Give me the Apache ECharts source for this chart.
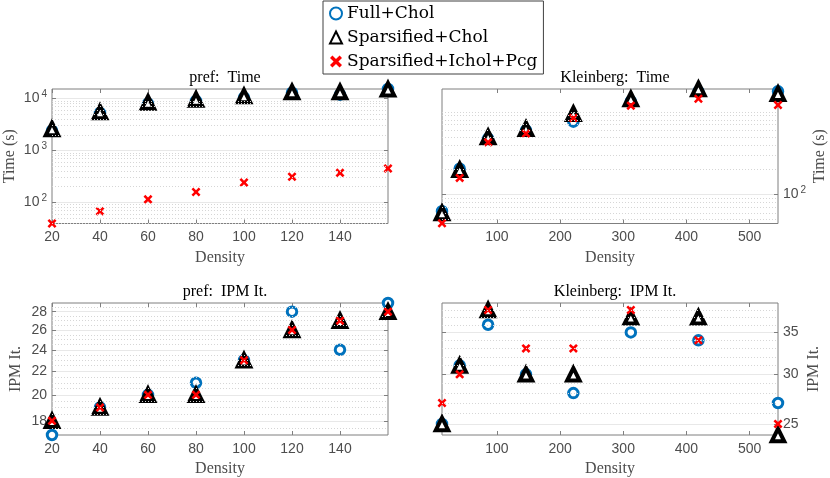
<!DOCTYPE html>
<html>
<head>
<meta charset="utf-8">
<script src="https://cdn.jsdelivr.net/npm/echarts@6/dist/echarts.min.js"></script>
<style>html,body{margin:0;padding:0;background:#fff}#main{width:830px;height:478px}</style>
</head>
<body>
<div id="main"></div>
<script>
// densities
var prefDensity = [20, 40, 60, 80, 100, 120, 140, 160];
var kleinDensity = [13, 41, 86, 146, 221, 312, 419, 545];

// time (s)
var prefTimeFull = [2400, 5300, 8000, 9000, 10400, 13000, 11900, 15300];
var prefTimeSpChol = [2600, 5500, 8400, 9600, 11200, 13400, 13400, 15100];
var prefTimePcg = [39, 67, 114, 158, 241, 310, 370, 448];
var kleinTimeFull = [63, 205, 475, 598, 762, 1340, 1753, 1770];
var kleinTimeSpChol = [60, 200, 498, 627, 950, 1432, 1890, 1660];
var kleinTimePcg = [45, 159, 428, 546, 844, 1189, 1442, 1210];

// IPM iterations
var prefItFull = [17, 19, 20, 21, 23, 28, 24, 29];
var prefItSpChol = [18, 19, 20, 20, 23, 26, 27, 28];
var prefItPcg = [18, 19, 20, 20, 23, 26, 27, 28];
var kleinItFull = [25, 31, 36, 30, 28, 35, 34, 27];
var kleinItSpChol = [25, 31, 38, 30, 30, 37, 37, 24];
var kleinItPcg = [27, 30, 38, 33, 33, 38, 34, 25];

// tick labels
var prefXTicks = [20, 40, 60, 80, 100, 120, 140];
var kleinXTicks = [100, 200, 300, 400, 500];
var prefTimeTicks = [100, 1000, 10000];
var kleinTimeTicks = [100];
var prefItTicks = [18, 20, 22, 24, 26, 28];
var kleinItTicks = [25, 30, 35];

// minor (dotted) grid values
var prefTimeMinor = [40, 50, 60, 70, 80, 90, 200, 300, 400, 500, 600, 700, 800, 900, 2000, 3000, 4000, 5000, 6000, 7000, 8000, 9000];
var kleinTimeMinor = [50, 60, 70, 80, 90, 200, 300, 400, 500, 600, 700, 800, 900, 1000];
var prefItMinor = [17.5, 18.5, 19, 19.5, 20.5, 21, 21.5, 22.5, 23, 23.5, 24.5, 25, 25.5, 26.5, 27, 27.5, 28.5];
var kleinItMinor = [26, 27, 28, 29, 31, 32, 33, 34, 36, 37, 38];

var legendNames = ['Full+Chol', 'Sparsified+Chol', 'Sparsified+Ichol+Pcg'];

var tickColor = '#4d4d4d';
var boxColor = '#7f7f7f';
var serif = 'Liberation Serif';
var sans = 'Liberation Sans';
var crossPath = 'path://M2,0 L5,3 L8,0 L10,2 L7,5 L10,8 L8,10 L5,7 L2,10 L0,8 L3,5 L0,2 Z';

var panels = [
	{title: 'pref:  Time', left: 52, top: 89, x: prefDensity, xMin: 20, xMax: 160, xTicks: prefXTicks,
	 yMin: 39, yMax: 15300, yTicks: prefTimeTicks, yMinor: prefTimeMinor, side: 'left', sup: true, yName: 'Time (s)',
	 ys: [prefTimeFull, prefTimeSpChol, prefTimePcg]},
	{title: 'Kleinberg:  Time', left: 442, top: 89, x: kleinDensity, xMin: 13, xMax: 545, xTicks: kleinXTicks,
	 yMin: 44.7, yMax: 1890, yTicks: kleinTimeTicks, yMinor: kleinTimeMinor, side: 'right', sup: true, yName: 'Time (s)',
	 ys: [kleinTimeFull, kleinTimeSpChol, kleinTimePcg]},
	{title: 'pref:  IPM It.', left: 52, top: 303, x: prefDensity, xMin: 20, xMax: 160, xTicks: prefXTicks,
	 yMin: 17, yMax: 29, yTicks: prefItTicks, yMinor: prefItMinor, side: 'left', sup: false, yName: 'IPM It.',
	 ys: [prefItFull, prefItSpChol, prefItPcg]},
	{title: 'Kleinberg:  IPM It.', left: 442, top: 303, x: kleinDensity, xMin: 13, xMax: 545, xTicks: kleinXTicks,
	 yMin: 24, yMax: 39, yTicks: kleinItTicks, yMinor: kleinItMinor, side: 'right', sup: false, yName: 'IPM It.',
	 ys: [kleinItFull, kleinItSpChol, kleinItPcg]}
];

var styles = [
	{symbol: 'circle', symbolSize: 9.5, itemStyle: {opacity: 1, color: '#fff', borderColor: '#0072BD', borderWidth: 3}},
	{symbol: 'triangle', symbolSize: 12.5, itemStyle: {opacity: 1, color: '#fff', borderColor: '#000', borderWidth: 4}},
	{symbol: crossPath, symbolSize: 9, itemStyle: {opacity: 1, color: '#ff0000'}}
];

var grids = [], xAxes = [], yAxes = [], series = [], titles = [];

function supFmt(v) {
	return '10{s|' + Math.round(Math.log10(v)) + '}';
}

panels.forEach(function(p, i) {
	var w = 336, h = 134.5;
	grids.push({left: p.left, top: p.top, width: w, height: h, show: true, borderColor: boxColor, borderWidth: 1});
	titles.push({text: p.title, left: p.left + w / 2, top: p.top - 24, textAlign: 'center',
		textStyle: {fontFamily: serif, fontSize: 16, fontWeight: 'normal', color: '#000'}});
	var xBase = {type: 'value', gridIndex: i, min: p.xMin, max: p.xMax,
		axisLine: {show: false}, splitLine: {show: false},
		axisTick: {inside: true, length: 4, lineStyle: {color: boxColor}, customValues: p.xTicks}};
	xAxes.push(Object.assign({}, xBase, {position: 'bottom',
		axisLabel: {customValues: p.xTicks, margin: 7, color: tickColor, fontFamily: sans, fontSize: 14},
		name: 'Density', nameLocation: 'middle', nameGap: 26,
		nameTextStyle: {fontFamily: serif, fontSize: 16, color: tickColor}}));
	xAxes.push(Object.assign({}, xBase, {position: 'top', axisLabel: {show: false}}));
	var yBase = {type: 'log', logBase: 10, gridIndex: i, min: p.yMin, max: p.yMax,
		axisLine: {show: false},
		axisTick: {inside: true, length: 4, lineStyle: {color: boxColor}, customValues: p.yTicks}};
	yAxes.push(Object.assign({}, yBase, {position: p.side,
		splitLine: {show: true, lineStyle: {color: '#e8e8e8'}},
		axisLabel: {customValues: p.yTicks, margin: 5, color: tickColor, fontFamily: sans, fontSize: 14,
			formatter: p.sup ? supFmt : '{value}',
			rich: {s: {fontSize: 10, fontFamily: sans, color: tickColor, padding: [0, 0, 9, 2]}}},
		name: p.yName, nameLocation: 'middle', nameGap: p.sup ? 34 : 28,
		nameRotate: 90,
		nameTextStyle: {fontFamily: serif, fontSize: 16, color: tickColor}}));
	yAxes.push(Object.assign({}, yBase, {position: p.side === 'left' ? 'right' : 'left',
		splitLine: {show: false}, axisLabel: {show: false}}));

	// dotted minor grid
	series.push({type: 'line', data: [], xAxisIndex: 2 * i, yAxisIndex: 2 * i, z: 1, silent: true,
		markLine: {silent: true, symbol: 'none', label: {show: false}, animation: false,
			lineStyle: {type: [1, 2], color: '#d6d6d6', width: 1},
			data: p.yMinor.map(function(v) { return {yAxis: v}; })}});
	p.ys.forEach(function(vals, k) {
		series.push(Object.assign({
			name: legendNames[k], type: 'scatter', xAxisIndex: 2 * i, yAxisIndex: 2 * i, z: 2 + k,
			data: p.x.map(function(x, j) { return [x, vals[j]]; })
		}, styles[k]));
	});
});

var chart = echarts.init(document.getElementById('main'));
chart.setOption({
	animation: false,
	backgroundColor: '#fff',
	title: titles,
	legend: {
		data: legendNames, orient: 'vertical', left: 323, top: 1,
		padding: [4, 6, 4, 6], itemGap: 7, itemWidth: 12, itemHeight: 12,
		borderColor: '#404040', borderWidth: 1, backgroundColor: '#fff',
		textStyle: {fontFamily: 'DejaVu Serif', fontSize: 17, color: '#000'}
	},
	grid: grids,
	xAxis: xAxes,
	yAxis: yAxes,
	series: series
});
</script>
</body>
</html>
